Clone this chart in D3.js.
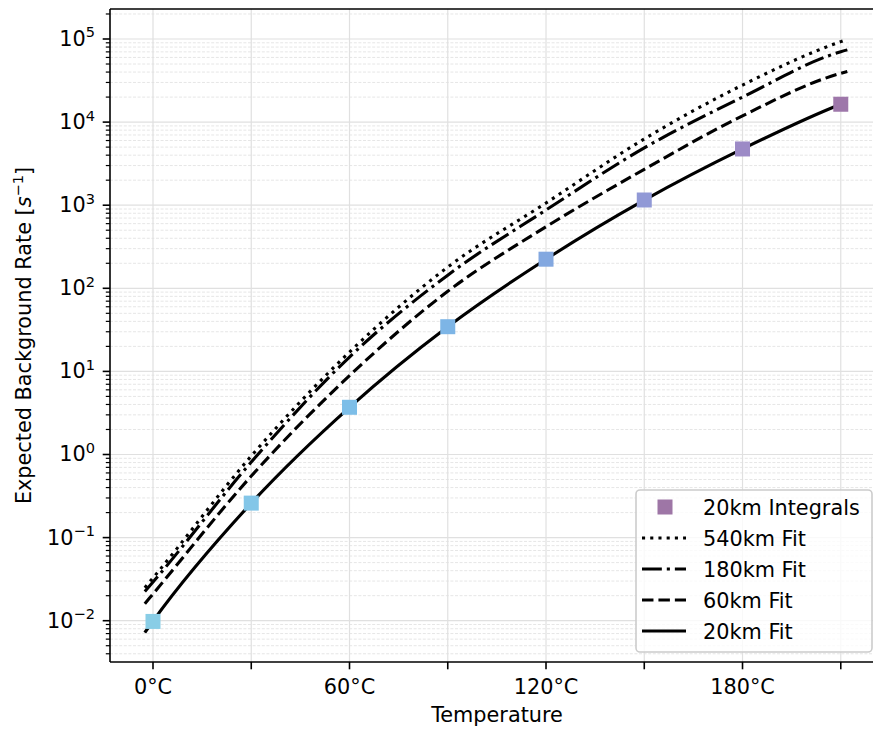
<!DOCTYPE html>
<html>
<head>
<meta charset="utf-8">
<script src="https://cdn.jsdelivr.net/npm/d3@7"></script>
<style>
  body { margin: 0; background: #fff; }
  svg { font-family: "DejaVu Sans", sans-serif; display: block; }
</style>
</head>
<body>
<div id="chart"></div>
<script>
// measured points (20km integrals)
const temps = [0, 30, 60, 90, 120, 150, 180, 210];
const integrals20 = [0.0098, 0.26, 3.7, 34.5, 224, 1155, 4750, 16400];
const integralColors = ["#89cde6", "#83c6e8", "#7dbee8", "#7db5e6", "#83a8e0", "#9199d6", "#9c8ac6", "#9e77aa"];

// fit curves
const fitTemps = [-2.5, 0, 30, 60, 90, 120, 150, 180, 210, 212];
const fit20  = [0.0072, 0.0099, 0.26, 3.7, 34.5, 224, 1150, 4750, 16400, 17600];
const fit60  = [0.016, 0.021, 0.55, 8.9, 92, 550, 2700, 11900, 38600, 40500];
const fit180 = [0.0225, 0.0292, 0.81, 14.9, 144, 875, 4890, 20000, 70300, 74000];
const fit540 = [0.025, 0.0327, 0.96, 17.1, 180, 1063, 6270, 27900, 93000, 99000];

const xTicks = [0, 30, 60, 90, 120, 150, 180, 210];
const xTickLabels = ["0°C", "", "60°C", "", "120°C", "", "180°C", ""];
const yExponents = [-2, -1, 0, 1, 2, 3, 4, 5];

const legendLabels = ["20km Integrals", "540km Fit", "180km Fit", "60km Fit", "20km Fit"];

const width = 873, height = 731;
const plot = {left: 110, right: 884, top: 9, bottom: 662};
const fontSize = 20.8;
const lw = 3.1;

const svg = d3.select("#chart")
  .append("svg")
    .attr("width", width)
    .attr("height", height);

const x = d3.scaleLinear()
  .domain([-13.13, 223.2])
  .range([plot.left, plot.right]);

const y = d3.scaleLog()
  .domain([Math.pow(10, -2.497), Math.pow(10, 5.361)])
  .range([plot.bottom, plot.top]);

// minor y values inside domain
const yMinor = [];
for (let e = -3; e <= 5; e++) {
  for (let m = 2; m <= 9; m++) {
    const v = m * Math.pow(10, e);
    if (v >= y.domain()[0] && v <= y.domain()[1]) yMinor.push(v);
  }
}

const grid = svg.append("g");

grid.selectAll(".minor")
  .data(yMinor)
  .join("line")
    .attr("x1", plot.left).attr("x2", plot.right)
    .attr("y1", d => y(d)).attr("y2", d => y(d))
    .attr("stroke", "#e6e6e6")
    .attr("stroke-width", 1)
    .attr("stroke-dasharray", "3,1.6");

grid.selectAll(".majorY")
  .data(yExponents)
  .join("line")
    .attr("x1", plot.left).attr("x2", plot.right)
    .attr("y1", d => y(Math.pow(10, d))).attr("y2", d => y(Math.pow(10, d)))
    .attr("stroke", "#e0e0e0")
    .attr("stroke-width", 1.2);

grid.selectAll(".majorX")
  .data(xTicks)
  .join("line")
    .attr("x1", d => x(d)).attr("x2", d => x(d))
    .attr("y1", plot.top).attr("y2", plot.bottom)
    .attr("stroke", "#e0e0e0")
    .attr("stroke-width", 1.2);

// fit lines
const line = d3.line()
  .curve(d3.curveMonotoneX)
  .x((d, i) => x(fitTemps[i]))
  .y(d => y(d));

const fits = [
  {values: fit540, dash: `${lw},${lw * 1.65}`},
  {values: fit180, dash: `${lw * 6.4},${lw * 1.6},${lw},${lw * 1.6}`},
  {values: fit60, dash: `${lw * 3.7},${lw * 1.6}`},
  {values: fit20, dash: null}
];

svg.selectAll(".fit")
  .data(fits)
  .join("path")
    .attr("class", "fit")
    .attr("d", d => line(d.values))
    .attr("fill", "none")
    .attr("stroke", "#000")
    .attr("stroke-width", lw)
    .attr("stroke-dasharray", d => d.dash);

// squares
const sq = 15;
svg.selectAll(".pt")
  .data(integrals20)
  .join("rect")
    .attr("x", (d, i) => x(temps[i]) - sq / 2)
    .attr("y", d => y(d) - sq / 2)
    .attr("width", sq)
    .attr("height", sq)
    .attr("fill", (d, i) => integralColors[i]);

// spines
svg.append("line")
  .attr("x1", plot.left).attr("x2", plot.left)
  .attr("y1", plot.top).attr("y2", plot.bottom)
  .attr("stroke", "#000").attr("stroke-width", 1.6);
svg.append("line")
  .attr("x1", plot.left).attr("x2", plot.right)
  .attr("y1", plot.bottom).attr("y2", plot.bottom)
  .attr("stroke", "#000").attr("stroke-width", 1.6);
svg.append("line")
  .attr("x1", plot.left).attr("x2", plot.right)
  .attr("y1", plot.top).attr("y2", plot.top)
  .attr("stroke", "#000").attr("stroke-width", 1.6);

// x ticks
svg.selectAll(".xtick")
  .data(xTicks)
  .join("line")
    .attr("x1", d => x(d)).attr("x2", d => x(d))
    .attr("y1", plot.bottom).attr("y2", plot.bottom + 7.3)
    .attr("stroke", "#000").attr("stroke-width", 1.6);

svg.selectAll(".xlabel")
  .data(xTicks)
  .join("text")
    .attr("x", d => x(d))
    .attr("y", 694)
    .attr("text-anchor", "middle")
    .attr("font-size", fontSize)
    .text((d, i) => xTickLabels[i]);

// y ticks
svg.selectAll(".ytick")
  .data(yExponents)
  .join("line")
    .attr("x1", plot.left - 7.3).attr("x2", plot.left)
    .attr("y1", d => y(Math.pow(10, d))).attr("y2", d => y(Math.pow(10, d)))
    .attr("stroke", "#000").attr("stroke-width", 1.6);

svg.selectAll(".yminortick")
  .data(yMinor)
  .join("line")
    .attr("x1", plot.left - 4.2).attr("x2", plot.left)
    .attr("y1", d => y(d)).attr("y2", d => y(d))
    .attr("stroke", "#000").attr("stroke-width", 1.2);

const ylab = svg.selectAll(".ylabel")
  .data(yExponents)
  .join("text")
    .attr("x", 95)
    .attr("y", d => y(Math.pow(10, d)) + 7)
    .attr("text-anchor", "end")
    .attr("font-size", fontSize);
ylab.append("tspan").text("10");
ylab.append("tspan")
  .attr("dy", -8.5)
  .attr("font-size", fontSize * 0.7)
  .text(d => String(d).replace("-", "\u2212"));

// axis titles
svg.append("text")
  .attr("x", (plot.left + plot.right) / 2)
  .attr("y", 722)
  .attr("text-anchor", "middle")
  .attr("font-size", fontSize)
  .text("Temperature");

const yt = svg.append("text")
  .attr("transform", `translate(31, ${(plot.top + plot.bottom) / 2}) rotate(-90)`)
  .attr("text-anchor", "middle")
  .attr("font-size", fontSize);
yt.append("tspan").text("Expected Background Rate [");
yt.append("tspan").attr("font-style", "italic").text("s");
yt.append("tspan").attr("dy", -8.5).attr("font-size", fontSize * 0.7).text("\u22121");
yt.append("tspan").attr("dy", 8.5).text("]");

// legend
const legend = svg.append("g");
legend.append("rect")
  .attr("x", 636).attr("y", 490)
  .attr("width", 236).attr("height", 162)
  .attr("rx", 4)
  .attr("fill", "#fff").attr("fill-opacity", 0.8)
  .attr("stroke", "#cccccc").attr("stroke-width", 1.6);

const rowY = i => 507 + i * 31;

legend.append("rect")
  .attr("x", 665 - sq / 2).attr("y", rowY(0) - sq / 2)
  .attr("width", sq).attr("height", sq)
  .attr("fill", "#9e76a6");

legend.selectAll(".lline")
  .data(fits)
  .join("line")
    .attr("x1", 642).attr("x2", 686)
    .attr("y1", (d, i) => rowY(i + 1)).attr("y2", (d, i) => rowY(i + 1))
    .attr("stroke", "#000")
    .attr("stroke-width", lw)
    .attr("stroke-dasharray", d => d.dash);

legend.selectAll(".ltext")
  .data(legendLabels)
  .join("text")
    .attr("x", 703)
    .attr("y", (d, i) => rowY(i) + 7.5)
    .attr("font-size", fontSize)
    .text(d => d);
</script>
</body>
</html>
